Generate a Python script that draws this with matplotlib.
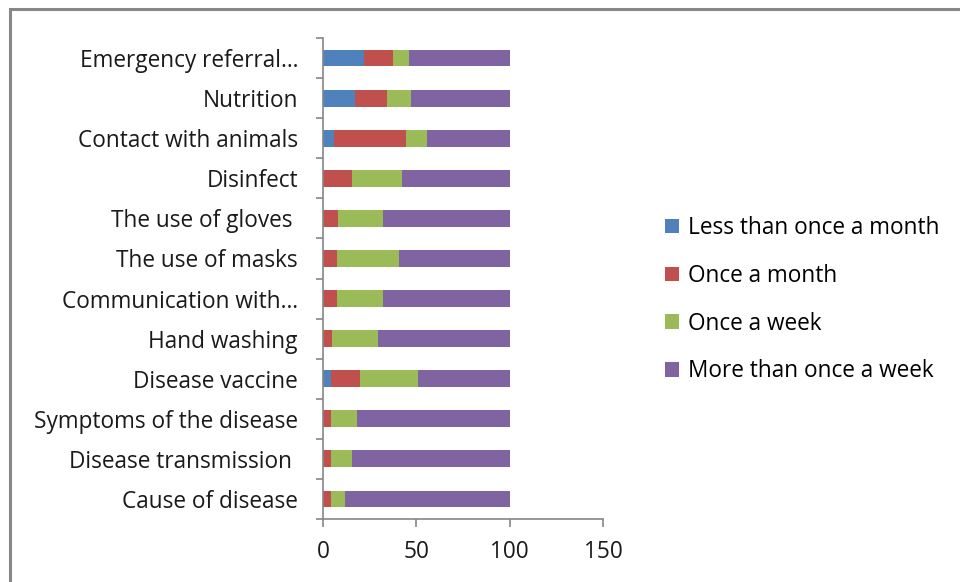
import matplotlib
matplotlib.use("Agg")
import matplotlib.pyplot as plt
from matplotlib.patches import Rectangle, Patch
import numpy as np

plt.rcParams['font.family'] = ['Open Sans', 'DejaVu Sans']

categories = ["Cause of disease", "Disease transmission ", "Symptoms of the disease",
              "Disease vaccine", "Hand washing", "Communication with\u2026",
              "The use of masks", "The use of gloves ", "Disinfect",
              "Contact with animals", "Nutrition", "Emergency referral\u2026"]
less_monthly = [0, 0, 0, 4.1, 0, 0, 0, 0, 0, 6.1, 17, 21.8]
once_month = [4.1, 4.1, 4.1, 15.5, 4.6, 7.3, 7.3, 8.2, 15.7, 38.2, 17.1, 15.7]
once_week = [7.5, 11.6, 14.3, 31.1, 24.7, 24.7, 33.2, 23.8, 26.6, 11.2, 13.0, 8.4]
more_week = [88.4, 84.3, 81.6, 49.3, 70.7, 68.0, 59.5, 68.0, 57.7, 44.5, 52.9, 54.1]
series_names = ["Less than once a month", "Once a month", "Once a week", "More than once a week"]
colors = ["#4F81BD", "#C0504D", "#9BBB59", "#8064A2"]
xticks = [0, 50, 100, 150]

FS = 16.3
fig = plt.figure(figsize=(9.6, 5.82), dpi=100)
ax = fig.add_axes([323/960, 1-519/582, 280/960, 481/582])

y = np.arange(len(categories))
left = np.zeros(len(categories))
handles = []
for vals, c, name in zip([less_monthly, once_month, once_week, more_week], colors, series_names):
    ax.barh(y, vals, left=left, height=0.42, color=c, edgecolor='none')
    left = left + np.array(vals)
    handles.append(Patch(facecolor=c, edgecolor='none', label=name))

ax.set_xlim(0, 150)
ax.set_ylim(-0.5, len(categories) - 0.5)
ax.set_xticks(xticks)
ax.set_xticklabels([str(t) for t in xticks], fontsize=FS, color='#1a1a1a')
ax.set_yticks(y)
ax.set_yticklabels(categories, fontsize=FS, color='#1a1a1a')
ax.set_yticks(np.arange(-0.5, len(categories), 1), minor=True)
ax.tick_params(axis='y', which='major', length=0, pad=18)
ax.tick_params(axis='y', which='minor', length=5, color='#868686', width=1.2)
ax.tick_params(axis='x', which='major', length=6, color='#868686', width=1.2, pad=9)
for s in ['top', 'right']:
    ax.spines[s].set_visible(False)
for s in ['left', 'bottom']:
    ax.spines[s].set_color('#868686')
    ax.spines[s].set_linewidth(1.2)

fig.legend(handles=handles, loc='upper left', bbox_to_anchor=(656/960, 1-207/582),
           frameon=False, fontsize=FS, handlelength=0.62, handleheight=0.62,
           handletextpad=0.4, labelspacing=1.05, borderaxespad=0)

# outer frame (partially visible)
fig.patches.append(Rectangle((10/960, -0.2), 1.2, 1.2 - 9/582, transform=fig.transFigure,
                             fill=False, edgecolor='#878787', linewidth=2.2))

fig.savefig("out.png", dpi=100)
